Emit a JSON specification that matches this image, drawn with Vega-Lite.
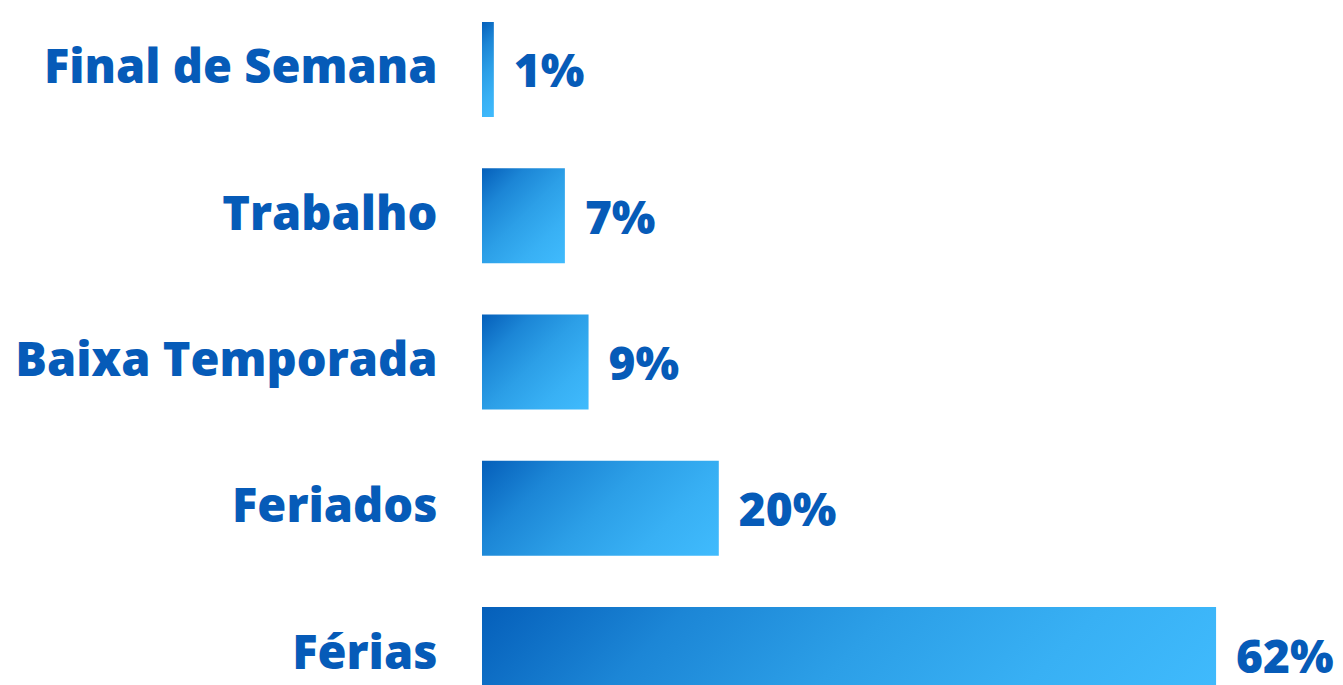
{
  "$schema": "https://vega.github.io/schema/vega-lite/v6.json",
  "width": 861,
  "height": 685,
  "autosize": "none",
  "padding": {"left": 482, "top": 0, "right": 0, "bottom": 0},
  "background": "white",
  "config": {"view": {"stroke": null}},
  "data": {
    "values": [
      {"motivo": "Final de Semana", "pct": 0.01},
      {"motivo": "Trabalho", "pct": 0.07},
      {"motivo": "Baixa Temporada", "pct": 0.09},
      {"motivo": "Feriados", "pct": 0.20},
      {"motivo": "Férias", "pct": 0.62}
    ]
  },
  "encoding": {
    "y": {
      "field": "motivo",
      "type": "nominal",
      "sort": null,
      "scale": {"range": [0, 724], "paddingInner": 0.35, "paddingOuter": 0.15},
      "axis": {
        "title": null,
        "domain": false,
        "ticks": false,
        "labelPadding": 45,
        "labelFont": "Open Sans",
        "labelFontWeight": 800,
        "labelFontSize": 47,
        "labelColor": "#065bb8",
        "labelLimit": 500
      }
    },
    "x": {
      "field": "pct",
      "type": "quantitative",
      "scale": {"domain": [0, 0.7272], "nice": false},
      "axis": null
    }
  },
  "layer": [
    {
      "mark": {"type": "bar", "clip": true},
      "encoding": {
        "color": {
          "condition": [
            {
              "test": "datum.motivo === 'Férias'",
              "value": {"gradient": "linear", "x1": 0, "y1": 0, "x2": 1.111, "y2": 0.144,
                "stops": [
                  {"offset": 0, "color": "#055fba"},
                  {"offset": 0.25, "color": "#1c86d6"},
                  {"offset": 0.5, "color": "#2c9fe7"},
                  {"offset": 0.75, "color": "#38b0f4"},
                  {"offset": 1, "color": "#40bbfd"}
                ]}
            },
            {
              "test": "datum.motivo === 'Feriados'",
              "value": {"gradient": "linear", "x1": 0, "y1": 0, "x2": 1.207, "y2": 0.486,
                "stops": [
                  {"offset": 0, "color": "#055fba"},
                  {"offset": 0.25, "color": "#1c86d6"},
                  {"offset": 0.5, "color": "#2c9fe7"},
                  {"offset": 0.75, "color": "#38b0f4"},
                  {"offset": 1, "color": "#40bbfd"}
                ]}
            },
            {
              "test": "datum.motivo === 'Baixa Temporada'",
              "value": {"gradient": "linear", "x1": 0, "y1": 0, "x2": 1.054, "y2": 0.94,
                "stops": [
                  {"offset": 0, "color": "#055fba"},
                  {"offset": 0.25, "color": "#1c86d6"},
                  {"offset": 0.5, "color": "#2c9fe7"},
                  {"offset": 0.75, "color": "#38b0f4"},
                  {"offset": 1, "color": "#40bbfd"}
                ]}
            },
            {
              "test": "datum.motivo === 'Trabalho'",
              "value": {"gradient": "linear", "x1": 0, "y1": 0, "x2": 0.928, "y2": 1.063,
                "stops": [
                  {"offset": 0, "color": "#055fba"},
                  {"offset": 0.25, "color": "#1c86d6"},
                  {"offset": 0.5, "color": "#2c9fe7"},
                  {"offset": 0.75, "color": "#38b0f4"},
                  {"offset": 1, "color": "#40bbfd"}
                ]}
            }
          ],
          "value": {"gradient": "linear", "x1": 0, "y1": 0, "x2": 0.138, "y2": 1.107,
            "stops": [
              {"offset": 0, "color": "#055fba"},
              {"offset": 0.25, "color": "#1c86d6"},
              {"offset": 0.5, "color": "#2c9fe7"},
              {"offset": 0.75, "color": "#38b0f4"},
              {"offset": 1, "color": "#40bbfd"}
            ]}
        }
      }
    },
    {
      "mark": {
        "type": "text",
        "align": "left",
        "baseline": "middle",
        "dx": 20,
        "dy": 4,
        "font": "Open Sans",
        "fontWeight": 800,
        "fontSize": 46,
        "color": "#065bb8"
      },
      "encoding": {
        "text": {"field": "pct", "type": "quantitative", "format": ".0%"}
      }
    }
  ]
}
